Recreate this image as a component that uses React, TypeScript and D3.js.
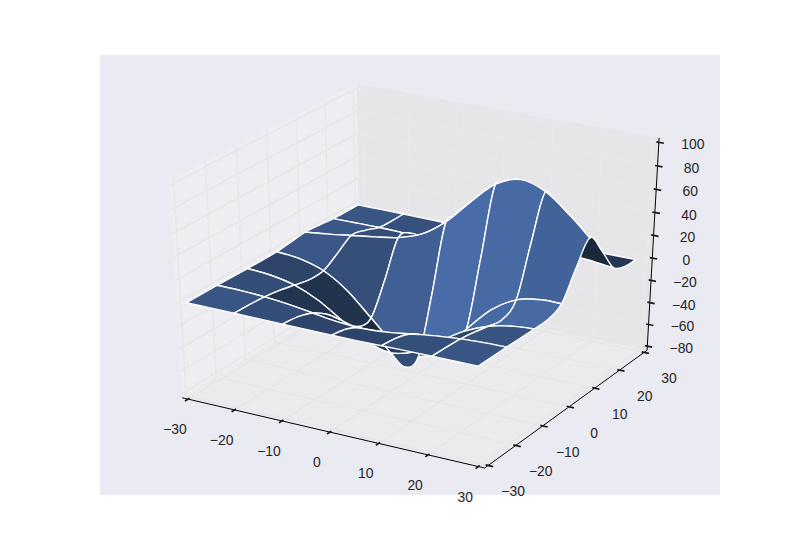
import React from "react";
import * as d3 from "d3";

// Surface heights: rows follow yValues, columns follow xValues.
const xValues = [-30, -25, -20, -15, -10, -5, 0, 5, 10, 15, 20, 25, 29];
const yValues = [-30, -25, -20, -15, -10, -5, 0, 5, 10, 15, 20, 25, 29];
const zRows = [
  [-0.01, -0.04, -0.12, -0.29, -0.54, -0.78, -0.88, -0.78, -0.54, -0.29, -0.12, -0.04, -0.01],
  [-0.04, -0.15, -0.47, -1.13, -2.12, -3.08, -3.49, -3.08, -2.12, -1.13, -0.47, -0.15, -0.05],
  [-0.12, -0.47, -1.46, -3.5, -6.53, -9.5, -10.77, -9.5, -6.53, -3.5, -1.46, -0.47, -0.16],
  [-0.29, -1.13, -3.5, -8.39, -15.68, -22.81, -25.85, -22.81, -15.68, -8.39, -3.5, -1.13, -0.39],
  [-0.53, -2.12, -6.53, -15.67, -29.27, -42.59, -48.25, -42.58, -29.24, -15.65, -6.5, -2.1, -0.7],
  [-0.75, -3.0, -9.34, -22.52, -42.13, -61.29, -69.31, -60.89, -41.43, -21.7, -8.56, -2.37, -0.52],
  [-0.47, -2.55, -8.83, -22.27, -42.38, -61.54, -68.11, -56.67, -33.92, -12.27, 0.72, 5.22, 5.24],
  [1.06, 1.15, -0.79, -6.76, -16.15, -22.97, -18.73, -1.13, 21.74, 38.06, 42.02, 35.95, 27.8],
  [2.5, 4.85, 7.83, 10.78, 14.34, 21.74, 36.67, 57.76, 76.82, 84.69, 78.42, 62.23, 46.84],
  [1.55, 3.1, 5.21, 7.66, 10.78, 16.22, 25.67, 38.06, 48.67, 52.48, 48.02, 37.9, 28.46],
  [0.29, 0.47, 0.48, 0.08, -0.63, -0.79, 0.72, 4.08, 7.83, 10.08, 10.03, 8.24, 6.27],
  [-0.01, -0.07, -0.31, -0.84, -1.64, -2.37, -2.55, -1.97, -0.94, -0.02, 0.47, 0.56, 0.48],
  [-0.01, -0.05, -0.15, -0.37, -0.69, -1.0, -1.13, -0.98, -0.64, -0.31, -0.1, -0.01, 0.02],
];
const xTicks = [-30, -20, -10, 0, 10, 20, 30];
const yTicks = [-30, -20, -10, 0, 10, 20, 30];
const zTicks = [-80, -60, -40, -20, 0, 20, 40, 60, 80, 100];

const FONT = "'Liberation Sans', Arial, sans-serif";
const BASE = d3.rgb("#4C72B0");
const EXT = 1 / 48;
const LO = -EXT;
const HI = 1 + EXT;

const nx = d3.scaleLinear().domain([-30, 30]).range([0, 1]);
const ny = d3.scaleLinear().domain([-30, 30]).range([0, 1]);
const nz = d3.scaleLinear().domain([-80, 100]).range([0, 1]);
const sx = d3.scaleLinear().domain([-0.095, 0.09]).range([100, 720]);
const sy = d3.scaleLinear().domain([-0.095, 0.09]).range([495, 55]);

type P = [number, number, number];

const E: P = [0.5 + 5 * Math.sqrt(3) * 0.5, 0.5 - 7.5, 0.5 + 5];
const N: P = [0.433013, -0.75, 0.5];
const U: P = [0.866025, 0.5, 0];
const V: P = [-0.25, 0.433013, 0.866025];
const dot = (a: number[], b: number[]) => a[0] * b[0] + a[1] * b[1] + a[2] * b[2];

function proj(a: number, b: number, c: number): P {
  const d = [a - E[0], b - E[1], c - E[2]];
  const w = -dot(d, N);
  return [sx(dot(d, U) / w), sy(dot(d, V) / w), -10 / w];
}
const pt = (i: number, j: number) => proj(nx(xValues[j]), ny(yValues[i]), nz(zRows[i][j]));

function segment(ctx: any, a: P, b: P, c: P, d: P) {
  ctx.bezierCurveTo(
    b[0] + (c[0] - a[0]) / 6,
    b[1] + (c[1] - a[1]) / 6,
    c[0] - (d[0] - b[0]) / 6,
    c[1] - (d[1] - b[1]) / 6,
    c[0],
    c[1],
  );
}
const clampI = (v: number) => Math.max(0, Math.min(12, v));

function walk(ctx: any, i: number, j: number, di: number, dj: number, steps: number) {
  for (let s = 0; s < steps; s++) {
    const at = (k: number) => pt(clampI(i + di * (s + k)), clampI(j + dj * (s + k)));
    segment(ctx, at(-1), at(0), at(1), at(2));
  }
}

function zAt(xv: number, yv: number) {
  const j0 = Math.max(0, Math.min(11, d3.bisectRight(xValues, xv) - 1));
  const i0 = Math.max(0, Math.min(11, d3.bisectRight(yValues, yv) - 1));
  const fj = (xv - xValues[j0]) / (xValues[j0 + 1] - xValues[j0]);
  const fi = (yv - yValues[i0]) / (yValues[i0 + 1] - yValues[i0]);
  return (
    (1 - fi) * ((1 - fj) * zRows[i0][j0] + fj * zRows[i0][j0 + 1]) +
    fi * ((1 - fj) * zRows[i0 + 1][j0] + fj * zRows[i0 + 1][j0 + 1])
  );
}

// perimeter sample used for the facet normal, as (x, y) in the 1-unit sampling of the surface
function perimeterAt(k: number, x0: number, y0: number, nc: number, nr: number): [number, number] {
  if (k <= nc) return [x0 + k, y0];
  if (k <= nc + nr) return [x0 + nc, y0 + (k - nc)];
  if (k <= 2 * nc + nr + 1) return [x0 + (nc - (k - nc - nr - 1)), y0 + nr];
  return [x0, y0 + (nr - (k - 2 * nc - nr - 2))];
}

function buildPatches() {
  const out: { d: string; depth: number; shade: number }[] = [];
  for (let i = 0; i < 12; i += 2) {
    for (let j = 0; j < 12; j += 2) {
      const ctx = d3.path();
      const s = pt(i, j);
      ctx.moveTo(s[0], s[1]);
      walk(ctx, i, j, 0, 1, 2);
      walk(ctx, i, j + 2, 1, 0, 2);
      walk(ctx, i + 2, j + 2, 0, -1, 2);
      walk(ctx, i + 2, j, -1, 0, 2);
      ctx.closePath();
      const ring: [number, number][] = [
        [i, j], [i, j + 1], [i, j + 2], [i + 1, j + 2], [i + 2, j + 2], [i + 2, j + 1], [i + 2, j], [i + 1, j],
      ];
      const depth = d3.mean(ring, ([a, b]) => pt(a, b)[2]) as number;
      const x0 = xValues[j];
      const y0 = yValues[i];
      const nc = Math.round(xValues[j + 2] - x0);
      const nr = Math.round(yValues[i + 2] - y0);
      const n3 = 2 * nc + 2 * nr + 3;
      const at = (k: number) => {
        const [px, py] = perimeterAt(k, x0, y0, nc, nr);
        return [px, py, zAt(px, py)];
      };
      const a0 = at(0);
      const a1 = at(Math.floor(n3 / 3));
      const a2 = at(Math.floor((2 * n3) / 3));
      const v1 = [a1[0] - a0[0], a1[1] - a0[1], a1[2] - a0[2]];
      const v2 = [a2[0] - a1[0], a2[1] - a1[1], a2[2] - a1[2]];
      const n = [
        v1[1] * v2[2] - v1[2] * v2[1],
        v1[2] * v2[0] - v1[0] * v2[2],
        v1[0] * v2[1] - v1[1] * v2[0],
      ];
      const shade = dot(n, [-1, -1, 0.5]) / Math.hypot(n[0], n[1], n[2]);
      out.push({ d: ctx.toString(), depth, shade });
    }
  }
  out.sort((a, b) => b.depth - a.depth);
  return out;
}

const polyPath = (pts: P[]) => {
  const ctx = d3.path();
  pts.forEach((p, k) => {
    const q = proj(p[0], p[1], p[2]);
    if (k === 0) ctx.moveTo(q[0], q[1]);
    else ctx.lineTo(q[0], q[1]);
  });
  return ctx;
};
const closed = (pts: P[]) => {
  const c = polyPath(pts);
  c.closePath();
  return c.toString();
};
const line = (a: P, b: P) => polyPath([a, b]).toString();

export default function App() {
  const patches = buildPatches();
  const shadeExt = d3.extent(patches, (p) => p.shade) as [number, number];
  const factor = d3.scaleLinear().domain(shadeExt).range([0.36, 0.95]);
  const tone = (s: number) => {
    const f = factor(s);
    return d3.rgb(BASE.r * f, BASE.g * f, BASE.b * f).formatHex();
  };

  const gridFront: string[] = [];
  const gridBack: string[] = [];
  xTicks.forEach((t) => {
    const v = nx(t);
    gridFront.push(line([v, LO, LO], [v, HI, LO]));
    gridBack.push(line([v, HI, LO], [v, HI, HI]));
  });
  yTicks.forEach((t) => {
    const v = ny(t);
    gridFront.push(line([HI, v, LO], [LO, v, LO]));
    gridFront.push(line([LO, v, LO], [LO, v, HI]));
  });
  zTicks.forEach((t) => {
    const v = nz(t);
    gridFront.push(line([LO, LO, v], [LO, HI, v]));
    gridBack.push(line([LO, HI, v], [HI, HI, v]));
  });

  const td = 1 / 12;
  const ticks: string[] = [];
  const labels: { x: number; y: number; s: string }[] = [];
  const fmt = (t: number) => (t < 0 ? "\u2212" + Math.abs(t) : String(t));
  xTicks.forEach((t) => {
    const v = nx(t);
    ticks.push(line([v, LO + 0.1 * td, LO], [v, LO - 0.2 * td, LO]));
    const q = proj(v, LO, LO);
    labels.push({ x: q[0] - 13, y: q[1] + 30, s: fmt(t) });
  });
  yTicks.forEach((t) => {
    const v = ny(t);
    ticks.push(line([HI - 0.1 * td, v, LO], [HI + 0.2 * td, v, LO]));
    const q = proj(HI, v, LO);
    labels.push({ x: q[0] + 25, y: q[1] + 26, s: fmt(t) });
  });
  zTicks.forEach((t) => {
    const v = nz(t);
    ticks.push(line([HI - 0.1 * td, HI, v], [HI + 0.2 * td, HI, v]));
    const q = proj(HI, HI, v);
    labels.push({ x: q[0] + 34, y: q[1] + 2, s: fmt(t) });
  });

  return (
    <svg
      width={800}
      height={550}
      viewBox="0 0 800 550"
      style={{ position: "absolute", left: 0, top: 0, background: "#fff" }}
    >
      <rect x={100} y={55} width={620} height={440} fill="#EAEAF2" />
      <path d={closed([[LO, LO, LO], [LO, HI, LO], [LO, HI, HI], [LO, LO, HI]])} fill="#EEEEF2" />
      <path d={closed([[LO, HI, LO], [HI, HI, LO], [HI, HI, HI], [LO, HI, HI]])} fill="#E6E6E9" />
      <path d={closed([[LO, LO, LO], [HI, LO, LO], [HI, HI, LO], [LO, HI, LO]])} fill="#EBEBED" />
      <g fill="none" stroke="#E8E8EA" strokeWidth={1.4}>
        {gridBack.map((d, k) => (
          <path key={k} d={d} />
        ))}
      </g>
      <g fill="none" stroke="#E6E6E7" strokeWidth={1.4}>
        {gridFront.map((d, k) => (
          <path key={k} d={d} />
        ))}
      </g>
      <g fill="none" stroke="#000" strokeWidth={1}>
        <path d={line([LO, LO, LO], [HI, LO, LO])} />
        <path d={line([HI, LO, LO], [HI, HI, LO])} />
        <path d={line([HI, HI, LO], [HI, HI, HI])} />
      </g>
      <g fill="none" stroke="#1a1a1a" strokeWidth={1.7}>
        {ticks.map((d, k) => (
          <path key={k} d={d} />
        ))}
      </g>
      <g>
        {patches.map((p, k) => (
          <path key={k} d={p.d} fill={tone(p.shade)} stroke="#fff" strokeWidth={1.4} strokeLinejoin="round" />
        ))}
      </g>
      <g fontFamily={FONT} fontSize={13.9} fill="#262626" textAnchor="middle" dominantBaseline="central">
        {labels.map((l, k) => (
          <text key={k} x={l.x} y={l.y}>
            {l.s}
          </text>
        ))}
      </g>
    </svg>
  );
}
